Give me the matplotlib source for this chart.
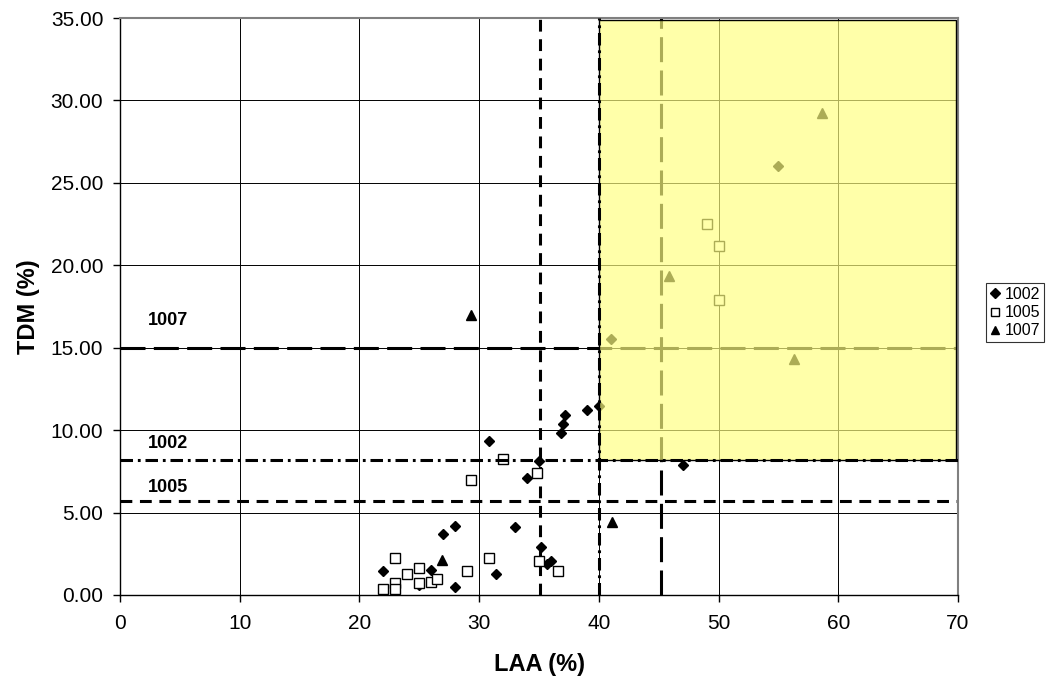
import matplotlib
matplotlib.use("Agg")
import matplotlib.pyplot as plt
from matplotlib.patches import Rectangle
from matplotlib.ticker import FormatStrFormatter

plt.rcParams['font.family'] = ['Liberation Sans', 'DejaVu Sans']
plt.rcParams['lines.scale_dashes'] = False

# Data
x_1002 = [22, 27, 28, 26, 25, 28, 33, 31.4, 35.2, 35.7, 36.0, 30.8, 34, 35, 36.8, 37, 37.2, 39, 40, 47, 55, 41]
y_1002 = [1.45, 3.7, 4.2, 1.5, 0.6, 0.5, 4.1, 1.3, 2.9, 1.9, 2.05, 9.35, 7.1, 8.15, 9.85, 10.35, 10.9, 11.2, 11.45, 7.9, 26.0, 15.5]
x_1005 = [23, 22, 23, 23, 24, 25, 25, 26, 26.5, 29, 30.8, 35, 36.6, 32, 29.3, 34.8, 49, 50, 50]
y_1005 = [2.25, 0.35, 0.75, 0.35, 1.25, 1.65, 0.7, 0.8, 1.0, 1.45, 2.25, 2.05, 1.45, 8.25, 7.0, 7.4, 22.5, 21.2, 17.9]
x_1007 = [26.9, 29.3, 41.1, 45.9, 56.3, 58.6]
y_1007 = [2.1, 17.0, 4.45, 19.35, 14.3, 29.25]

# Threshold lines: (LAA, TDM) per series
thr_names = ['1002', '1005', '1007']
thr_laa = [40.0, 35.1, 45.2]
thr_tdm = [8.2, 5.7, 15.0]

fig = plt.figure(figsize=(10.49, 6.83), dpi=100)
ax = fig.add_axes([120/1049, 1-595/683, (958-120)/1049, (595-18)/683])
ax.set_xlim(0, 70)
ax.set_ylim(0, 35)
ax.set_xticks(range(0, 71, 10))
ax.set_yticks([0, 5, 10, 15, 20, 25, 30, 35])
ax.yaxis.set_major_formatter(FormatStrFormatter('%.2f'))
ax.tick_params(labelsize=15, direction='out', length=5, width=1, color='black')
ax.tick_params(axis='x', pad=9)
ax.tick_params(axis='y', pad=7)
ax.grid(True, color='#000000', linewidth=0.7, zorder=0)
ax.set_axisbelow(True)
for s in ['top', 'right']:
    ax.spines[s].set_color('#808080')
    ax.spines[s].set_linewidth(1.5)
for s in ['left', 'bottom']:
    ax.spines[s].set_color('black')
    ax.spines[s].set_linewidth(1)

lw = 2.2
ls_1002 = (0, (9, 3.5, 2, 3.5))
ls_1005 = (0, (8.5, 5.5))
ls_1007 = (0, (18, 6))

# lines under the highlight
ax.plot([0, 70], [thr_tdm[1]]*2, color='black', lw=lw, ls=ls_1005, zorder=2)
ax.plot([thr_laa[1]]*2, [0, 35], color='black', lw=lw, ls=ls_1005, zorder=2)
ax.plot([0, 70], [thr_tdm[2]]*2, color='black', lw=lw, ls=ls_1007, zorder=2)
ax.plot([thr_laa[2]]*2, [0, 35], color='black', lw=lw, ls=ls_1007, zorder=2)

ms = 6.5
ax.plot(x_1002, y_1002, ls='none', marker='D', ms=ms*0.85, color='black', label='1002', zorder=3)
ax.plot(x_1005, y_1005, ls='none', marker='s', ms=ms, mfc='white', mec='black', mew=1, label='1005', zorder=3)
ax.plot(x_1007, y_1007, ls='none', marker='^', ms=ms, color='black', label='1007', zorder=3)

# highlight rectangle
rect = Rectangle((thr_laa[0], thr_tdm[0]), 69.85 - thr_laa[0], 34.85 - thr_tdm[0],
                 facecolor='#FFFF80', alpha=0.68, edgecolor='none', zorder=4)
ax.add_patch(rect)
rect_e = Rectangle((thr_laa[0], thr_tdm[0]), 69.85 - thr_laa[0], 34.85 - thr_tdm[0],
                   facecolor='none', edgecolor='black', lw=1, zorder=4.5)
ax.add_patch(rect_e)

# 1002 lines on top
ax.plot([0, 70], [thr_tdm[0]]*2, color='black', lw=lw, ls=ls_1002, zorder=5)
ax.plot([thr_laa[0]]*2, [0, 35], color='black', lw=lw, ls=ls_1002, zorder=5)

# labels for lines
ax.text(2.3, thr_tdm[2] + 1.65, '1007', fontsize=13, fontweight='bold', va='center', zorder=6)
ax.text(2.3, thr_tdm[0] + 1.0, '1002', fontsize=13, fontweight='bold', va='center', zorder=6)
ax.text(2.3, thr_tdm[1] + 0.85, '1005', fontsize=13, fontweight='bold', va='center', zorder=6)

ax.set_xlabel('LAA (%)', fontsize=17, fontweight='bold', labelpad=14)
ax.set_ylabel('TDM (%)', fontsize=17, fontweight='bold', labelpad=8)

handles, labels = ax.get_legend_handles_labels()
leg = fig.legend(handles, labels, loc='upper left', bbox_to_anchor=(986/1049, 1-283/683),
                 fontsize=11.5, frameon=True, fancybox=False, edgecolor='black',
                 handlelength=0.6, handletextpad=0.3, borderpad=0.25, labelspacing=0.2,
                 borderaxespad=0, markerscale=0.85)
leg.get_frame().set_linewidth(0.8)

fig.savefig('out.png', dpi=100)
